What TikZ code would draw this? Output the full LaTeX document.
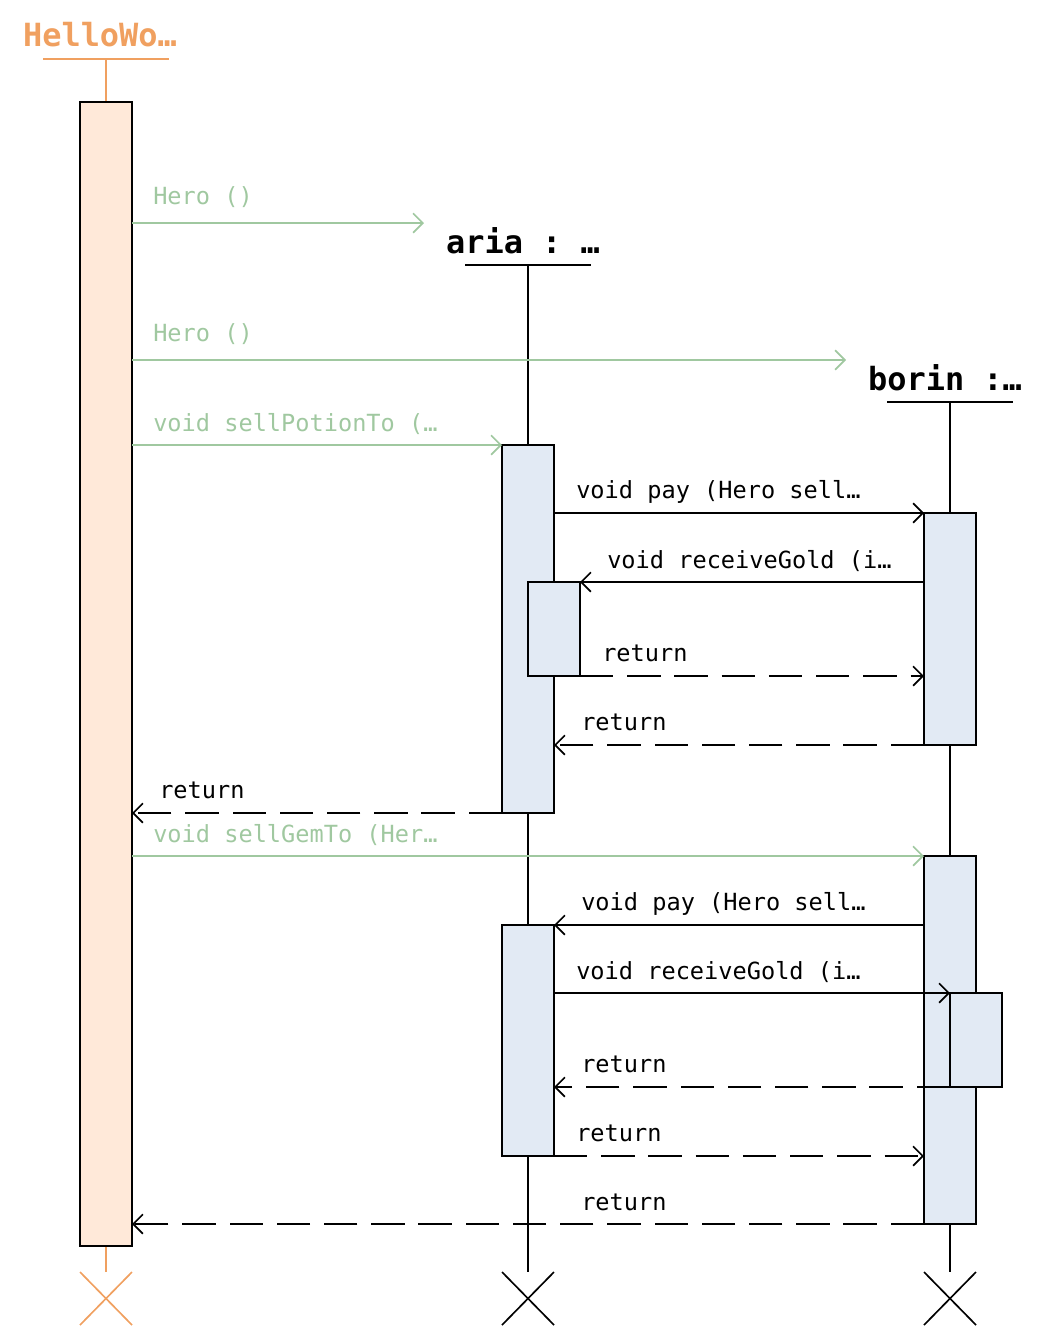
\documentclass[tikz,border=0pt]{standalone}
\usepackage{fontspec}
\setmonofont{DejaVu Sans Mono}
\usetikzlibrary{arrows.meta}
\definecolor{hwOrange}{HTML}{F0A060}
\definecolor{hwFill}{HTML}{FFE9D9}
\definecolor{actFill}{HTML}{E2EAF4}
\definecolor{msgGreen}{HTML}{A0C8A0}
\tikzset{
  lbl/.style={anchor=west, inner sep=0pt, font=\ttfamily\fontsize{17}{17}\selectfont},
  head/.style={inner sep=0pt, font=\ttfamily\bfseries\fontsize{23}{23}\selectfont},
  act/.style={draw=black, fill=actFill, line width=1.2pt},
  msg/.style={line width=1.2pt, -{Straight Barb[length=7pt,width=14pt]}},
  ret/.style={msg, dash pattern=on 24pt off 10pt},
  call/.style={msg, draw=msgGreen, text=msgGreen},
}
\begin{document}
\begin{tikzpicture}[x=0.72pt,y=-0.72pt]
    \useasboundingbox (0,0) rectangle (1044,1336);

    % lifelines
    \node[head, text=hwOrange] (hw) at (100,35) {HelloWo…};
    \draw[hwOrange, line width=2pt] (43,59) -- (169,59);
    \draw[hwOrange, line width=1.2pt] (106,59) coordinate (hwTop) -- (106,1272) coordinate (hwEnd);
    \node[head] (aria) at (523,241) {aria : …};
    \draw[line width=2pt] (465,265) -- (591,265);
    \draw[line width=1.2pt] (528,265) coordinate (ariaTop) -- (528,1272) coordinate (ariaEnd);
    \node[head] (borin) at (945,378) {borin :…};
    \draw[line width=2pt] (887,402) -- (1013,402);
    \draw[line width=1.2pt] (950,402) coordinate (borinTop) -- (950,1272) coordinate (borinEnd);

    % destroy marks
    \draw[hwOrange, line width=1.2pt] (80,1272) -- (132,1325) (80,1325) -- (132,1272);
    \draw[line width=1.2pt] (502,1272) -- (554,1325) (502,1325) -- (554,1272);
    \draw[line width=1.2pt] (924,1272) -- (976,1325) (924,1325) -- (976,1272);

    % activations
    \draw[act, fill=hwFill] (80,102) rectangle (132,1246);
    \draw[act] (502,445) rectangle (554,813);
    \draw[act] (528,582) rectangle (580,676);
    \draw[act] (924,513) rectangle (976,745);
    \draw[act] (924,856) rectangle (976,1224);
    \draw[act] (502,925) rectangle (554,1156);
    \draw[act] (950,993) rectangle (1002,1087);

    % messages
    \draw[call] (132,223) -- (424,223);
    \node[lbl, text=msgGreen] at (153,197) {Hero ()};
    \draw[call] (132,360) -- (846,360);
    \node[lbl, text=msgGreen] at (153,334) {Hero ()};
    \draw[call] (132,445) -- (502,445);
    \node[lbl, text=msgGreen] at (153,424) {void sellPotionTo (…};
    \draw[msg] (554,513) -- (924,513);
    \node[lbl] at (576,492) {void pay (Hero sell…};
    \draw[msg] (924,582) -- (580,582);
    \node[lbl] at (607,561) {void receiveGold (i…};
    \draw[ret] (580,676) -- (924,676);
    \node[lbl] at (602,653) {return};
    \draw[ret] (924,745) -- (554,745);
    \node[lbl] at (581,722) {return};
    \draw[ret] (502,813) -- (132,813);
    \node[lbl] at (159,790) {return};
    \draw[call] (132,856) -- (924,856);
    \node[lbl, text=msgGreen] at (153,835) {void sellGemTo (Her…};
    \draw[msg] (924,925) -- (554,925);
    \node[lbl] at (581,904) {void pay (Hero sell…};
    \draw[msg] (554,993) -- (950,993);
    \node[lbl] at (576,972) {void receiveGold (i…};
    \draw[ret] (950,1087) -- (554,1087);
    \node[lbl] at (581,1064) {return};
    \draw[ret] (554,1156) -- (924,1156);
    \node[lbl] at (576,1133) {return};
    \draw[ret] (924,1224) -- (132,1224);
    \node[lbl] at (581,1202) {return};

\end{tikzpicture}
\end{document}
